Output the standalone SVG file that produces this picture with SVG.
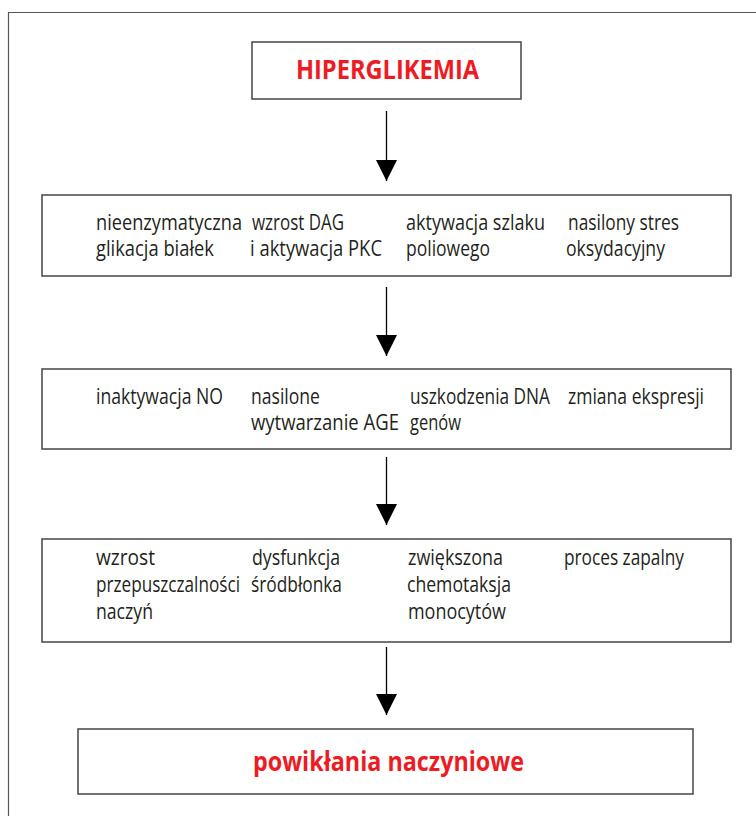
<svg xmlns="http://www.w3.org/2000/svg" width="756" height="816" viewBox="0 0 756 816">
<style>
.frame{fill:none;stroke:#555;stroke-width:1.2}
.box{fill:#fff;stroke:#505050;stroke-width:1.6}
.t{font-family:"Open Sans","Liberation Sans",sans-serif;font-size:16px;fill:#231f20}
.h{font-family:"Open Sans","Liberation Sans",sans-serif;font-size:26px;font-weight:bold;fill:#ed1c24}
.arr{stroke:#000;stroke-width:1.3;fill:none;marker-end:url(#ah)}
</style>
<defs>
<marker id="ah" markerUnits="userSpaceOnUse" markerWidth="21" markerHeight="21" viewBox="0 -10.5 21 21" refX="21" refY="0" orient="auto">
<path d="M0,-10.5 L21,0 L0,10.5 Z" fill="#000"/>
</marker>
</defs>
<rect width="756" height="816" fill="#fff"/>
<path class="frame" d="M8.5,830 V12.5 H780"/>

<g id="hiperglikemia">
<rect class="box" x="252" y="42" width="269" height="57"/>
<text class="h" x="296" y="79" textLength="183" lengthAdjust="spacingAndGlyphs">HIPERGLIKEMIA</text>
</g>

<g id="mechanizmy">
<rect class="box" x="42" y="195" width="689" height="81"/>
<g transform="scale(1,1.3125)">
<text class="t" x="96" y="175.24" textLength="146" lengthAdjust="spacingAndGlyphs">nieenzymatyczna</text>
<text class="t" x="96" y="195.05" textLength="118" lengthAdjust="spacingAndGlyphs">glikacja białek</text>
<text class="t" x="252" y="175.24" textLength="92" lengthAdjust="spacingAndGlyphs">wzrost DAG</text>
<text class="t" x="250" y="195.05" textLength="132" lengthAdjust="spacingAndGlyphs">i aktywacja PKC</text>
<text class="t" x="406" y="175.24" textLength="139" lengthAdjust="spacingAndGlyphs">aktywacja szlaku</text>
<text class="t" x="406" y="195.05" textLength="84" lengthAdjust="spacingAndGlyphs">poliowego</text>
<text class="t" x="568" y="175.24" textLength="111" lengthAdjust="spacingAndGlyphs">nasilony stres</text>
<text class="t" x="566" y="195.05" textLength="99" lengthAdjust="spacingAndGlyphs">oksydacyjny</text>
</g>
</g>

<g id="skutki">
<rect class="box" x="42" y="369" width="689" height="80"/>
<g transform="scale(1,1.3125)">
<text class="t" x="96" y="307.81" textLength="127" lengthAdjust="spacingAndGlyphs">inaktywacja NO</text>
<text class="t" x="251" y="307.81" textLength="69" lengthAdjust="spacingAndGlyphs">nasilone</text>
<text class="t" x="251" y="327.62" textLength="148" lengthAdjust="spacingAndGlyphs">wytwarzanie AGE</text>
<text class="t" x="410" y="307.81" textLength="140" lengthAdjust="spacingAndGlyphs">uszkodzenia DNA</text>
<text class="t" x="410" y="327.62" textLength="51" lengthAdjust="spacingAndGlyphs">genów</text>
<text class="t" x="568" y="307.81" textLength="136" lengthAdjust="spacingAndGlyphs">zmiana ekspresji</text>
</g>
</g>

<g id="zaburzenia">
<rect class="box" x="42" y="539" width="689" height="103"/>
<g transform="scale(1,1.3125)">
<text class="t" x="96" y="430.48" textLength="59" lengthAdjust="spacingAndGlyphs">wzrost</text>
<text class="t" x="96" y="451.05" textLength="144" lengthAdjust="spacingAndGlyphs">przepuszczalności</text>
<text class="t" x="96" y="471.62" textLength="57" lengthAdjust="spacingAndGlyphs">naczyń</text>
<text class="t" x="252" y="430.48" textLength="88" lengthAdjust="spacingAndGlyphs">dysfunkcja</text>
<text class="t" x="251" y="451.05" textLength="91" lengthAdjust="spacingAndGlyphs">śródbłonka</text>
<text class="t" x="408" y="430.48" textLength="95" lengthAdjust="spacingAndGlyphs">zwiększona</text>
<text class="t" x="407" y="451.05" textLength="104" lengthAdjust="spacingAndGlyphs">chemotaksja</text>
<text class="t" x="408" y="471.62" textLength="98" lengthAdjust="spacingAndGlyphs">monocytów</text>
<text class="t" x="564" y="430.48" textLength="120" lengthAdjust="spacingAndGlyphs">proces zapalny</text>
</g>
</g>

<g id="powiklania">
<rect class="box" x="78" y="729" width="615" height="65"/>
<text class="h" x="253" y="771" textLength="271" lengthAdjust="spacingAndGlyphs">powikłania naczyniowe</text>
</g>

<g id="connectors">
<line class="arr" x1="386.5" y1="111" x2="386.5" y2="181"/>
<line class="arr" x1="386.5" y1="287" x2="386.5" y2="356"/>
<line class="arr" x1="386.5" y1="457" x2="386.5" y2="525"/>
<line class="arr" x1="386.5" y1="647" x2="386.5" y2="715"/>
</g>
</svg>
